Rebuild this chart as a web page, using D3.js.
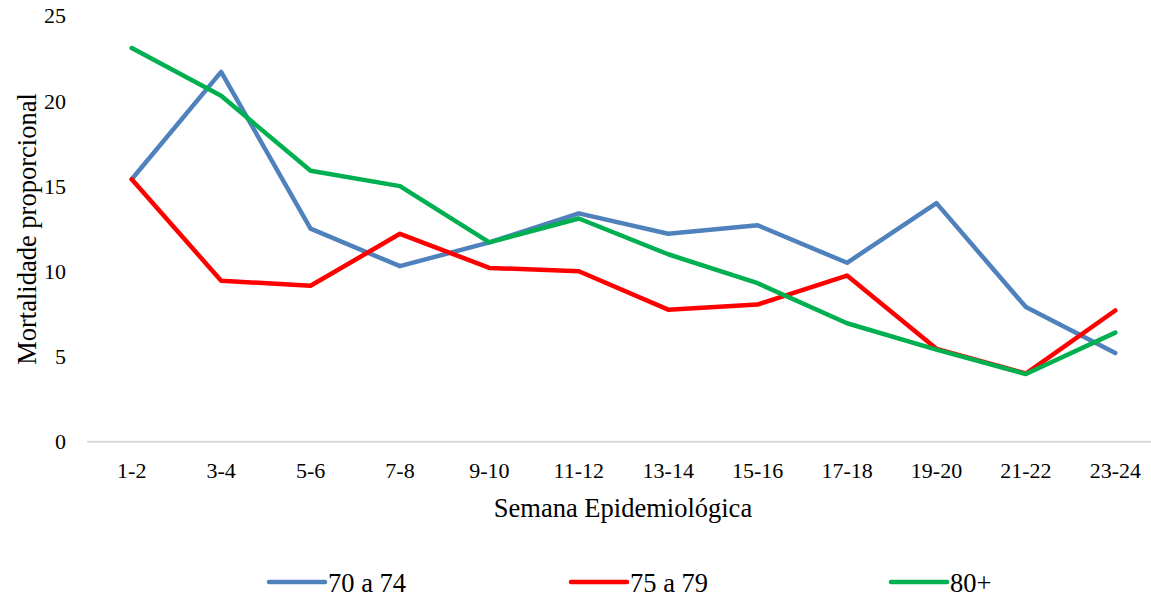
<!DOCTYPE html>
<html>
<head>
<meta charset="utf-8">
<script src="https://cdn.jsdelivr.net/npm/d3@7"></script>
<style>
  html, body { margin: 0; padding: 0; background: #fff; }
</style>
</head>
<body>
<svg id="chart" width="1151" height="596" style="font-family: 'Liberation Serif', 'Times New Roman', serif;"></svg>
<script>
// Semanas epidemiológicas (pares)
const categories = ["1-2", "3-4", "5-6", "7-8", "9-10", "11-12", "13-14", "15-16", "17-18", "19-20", "21-22", "23-24"];

// Mortalidade proporcional por faixa etária
const seriesNames = ["70 a 74", "75 a 79", "80+"];
const values70a74 = [15.4, 21.7, 12.5, 10.3, 11.7, 13.4, 12.2, 12.7, 10.5, 14.0, 7.9, 5.2];
const values75a79 = [15.4, 9.45, 9.15, 12.2, 10.2, 10.0, 7.75, 8.05, 9.75, 5.45, 4.0, 7.7];
const values80mais = [23.1, 20.3, 15.9, 15.0, 11.7, 13.1, 11.0, 9.3, 6.95, 5.4, 3.97, 6.4];

const yTicks = [0, 5, 10, 15, 20, 25];
const colors = ["#4F81BD", "#FF0000", "#00B050"];

const series = [
  { name: seriesNames[0], values: values70a74, color: colors[0] },
  { name: seriesNames[1], values: values75a79, color: colors[1] },
  { name: seriesNames[2], values: values80mais, color: colors[2] }
];

const FONT = "'Liberation Serif', 'Times New Roman', serif";
const svg = d3.select("#chart");

const x = d3.scaleBand().domain(categories).range([87, 1160]);
const y = d3.scaleLinear().domain([0, 25]).range([441.7, 15.7]);

// Linha do eixo horizontal
svg.append("line")
  .attr("x1", 87).attr("x2", 1151)
  .attr("y1", y(0)).attr("y2", y(0))
  .attr("stroke", "#d9d9d9").attr("stroke-width", 2);

// Rótulos do eixo Y
const yAxis = d3.axisLeft(y).tickValues(yTicks).tickSize(0).tickPadding(0);
const gy = svg.append("g").attr("transform", "translate(66,0)").call(yAxis)
  .attr("font-family", null).attr("font-size", null);
gy.select(".domain").remove();
gy.selectAll("text")
  .style("font-family", FONT)
  .style("font-size", "22px")
  .attr("fill", "#000")
  .attr("dy", "0.33em");

// Rótulos do eixo X
const xAxis = d3.axisBottom(x).tickSize(0).tickPadding(0);
const gx = svg.append("g").attr("transform", "translate(0,462)").call(xAxis)
  .attr("font-family", null).attr("font-size", null);
gx.select(".domain").remove();
gx.selectAll("text")
  .style("font-family", FONT)
  .style("font-size", "22px")
  .attr("fill", "#000")
  .attr("dy", "0.71em");

// Títulos dos eixos
svg.append("text")
  .attr("x", 623).attr("y", 517)
  .attr("text-anchor", "middle")
  .style("font-family", FONT)
  .style("font-size", "26.5px")
  .text("Semana Epidemiológica");

svg.append("text")
  .attr("transform", "translate(36,229) rotate(-90)")
  .attr("text-anchor", "middle")
  .style("font-family", FONT)
  .style("font-size", "26.5px")
  .text("Mortalidade proporcional");

// Linhas das séries
const line = d3.line()
  .x((d, i) => x(categories[i]) + x.bandwidth() / 2)
  .y(d => y(d));

svg.append("g").selectAll("path")
  .data(series)
  .join("path")
  .attr("d", d => line(d.values))
  .attr("fill", "none")
  .attr("stroke", d => d.color)
  .attr("stroke-width", 4.5)
  .attr("stroke-linejoin", "round")
  .attr("stroke-linecap", "round");

// Legenda
const legendX = [269, 571, 891];
const legend = svg.append("g").selectAll("g")
  .data(series)
  .join("g")
  .attr("transform", (d, i) => `translate(${legendX[i]},582)`);

legend.append("line")
  .attr("x1", 0).attr("x2", 56)
  .attr("y1", 0).attr("y2", 0)
  .attr("stroke", d => d.color)
  .attr("stroke-width", 4.5)
  .attr("stroke-linecap", "round");

legend.append("text")
  .attr("x", 59).attr("y", 9.5)
  .style("font-family", FONT)
  .style("font-size", "26.5px")
  .text(d => d.name);
</script>
</body>
</html>
